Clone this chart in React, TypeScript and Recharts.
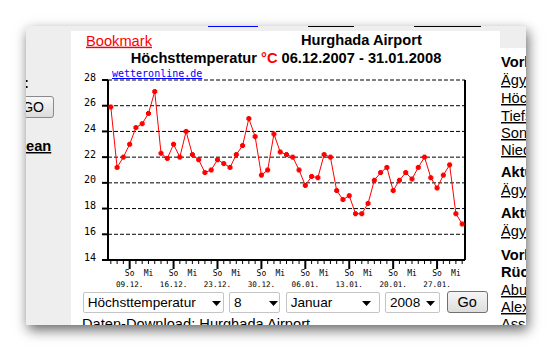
import React from 'react';
import { LineChart, Line, XAxis, YAxis, CartesianGrid } from 'recharts';

// Höchsttemperatur Hurghada, 06.12.2007 - 31.01.2008 (one value per day)
const temps = [
  25.9, 21.2, 22.0, 23.0, 24.3, 24.6, 25.4, 27.1, 22.3, 21.9,
  23.0, 22.0, 24.0, 22.2, 21.8, 20.8, 21.0, 21.8, 21.5, 21.2,
  22.2, 22.9, 25.0, 23.6, 20.6, 21.0, 23.8, 22.4, 22.2, 22.0,
  21.0, 19.8, 20.5, 20.4, 22.2, 22.0, 19.4, 18.7, 19.0, 17.6,
  17.6, 18.4, 20.2, 20.8, 21.2, 19.4, 20.2, 20.8, 20.3, 21.2,
  22.0, 20.4, 19.6, 20.6, 21.4, 17.6, 16.8,
];
const sundayLabels = ['09.12.', '16.12.', '23.12.', '30.12.', '06.01.', '13.01.', '20.01.', '27.01.'];
const weekdayLabels = ['So', 'Mi'];
const yTicks = [14, 16, 18, 20, 22, 24, 26, 28];
const station = 'Hurghada Airport';
const period = '06.12.2007 - 31.01.2008';

const FIRST_SUNDAY = 3; // 09.12.2007 is the 4th day
const data = temps.map((t, i) => ({ i, t }));
const dayTicks = data.map((d) => d.i);

const mono = '"DejaVu Sans Mono", monospace';
const sans = '"Liberation Sans", Arial, sans-serif';

const DayTick = ({ x, y, payload }: any) => {
  const off = payload.value - FIRST_SUNDAY;
  const sunday = off >= 0 && off % 7 === 0;
  const wed = off >= 0 && off % 7 === 3;
  return (
    <g>
      <line x1={x} x2={x} y1={y} y2={y + (sunday ? 9 : 4)} stroke="#000" strokeWidth={sunday ? 2 : 1} />
      {sunday && (
        <text x={x} y={y + 16} textAnchor="middle" fontSize={8} fontFamily={mono} fill="#000">
          {weekdayLabels[0]}
        </text>
      )}
      {wed && (
        <text x={x} y={y + 16} textAnchor="middle" fontSize={8} fontFamily={mono} fill="#000">
          {weekdayLabels[1]}
        </text>
      )}
      {sunday && (
        <text x={x} y={y + 27} textAnchor="middle" fontSize={7.6} fontFamily={mono} fill="#000">
          {sundayLabels[off / 7]}
        </text>
      )}
    </g>
  );
};

const LeftTick = ({ x, y, payload }: any) => (
  <g>
    <line x1={x - 6} x2={x} y1={y} y2={y} stroke="#000" strokeWidth={2} />
    <text x={x - 12} y={y + 0.5} textAnchor="end" fontSize={10} fontFamily={mono} fill="#000">
      {payload.value}
    </text>
  </g>
);

const RightTick = ({ x, y, payload }: any) => (
  <g>
    <line x1={x} x2={x + 7} y1={y} y2={y} stroke="#000" strokeWidth={2} />
    <text x={x + 9} y={y + 0.5} textAnchor="start" fontSize={10} fontFamily={mono} fill="#000">
      {payload.value}
    </text>
  </g>
);

const Cross = ({ cx, cy }: any) => {
  if (cx == null || cy == null) return null;
  return (
    <g fill="#ff0000">
      <rect x={cx - 2.5} y={cy - 1.5} width={5} height={3} />
      <rect x={cx - 1.5} y={cy - 2.5} width={3} height={5} />
    </g>
  );
};

// page helpers, coordinates are page pixels, frame starts at 26/26
const F = 26;

const Select = ({ x, w, label, arrow }: any) => (
  <div
    style={{
      position: 'absolute', left: x - F, top: 291.5 - F, width: w, height: 21,
      border: '1px solid #c4c4c4', borderRadius: 2, background: '#fff', boxSizing: 'border-box',
      fontFamily: sans, fontSize: 13.6, lineHeight: '19px', paddingLeft: 4, color: '#000', whiteSpace: 'nowrap',
    }}
  >
    {label}
    <svg style={{ position: 'absolute', left: arrow - x, top: 8 }} width={9} height={5}>
      <path d="M0 0H9L4.5 5Z" fill="#000" />
    </svg>
  </div>
);

const rightLinks = [
  { t: 'Vorhersage', b: 67, bold: true },
  { t: 'Ägypten', b: 85 },
  { t: 'Höchsttemp.', b: 103 },
  { t: 'Tiefsttemp.', b: 121 },
  { t: 'Sonne', b: 138 },
  { t: 'Niederschlag', b: 155 },
  { t: 'Aktuell', b: 177, bold: true },
  { t: 'Ägypten', b: 195 },
  { t: 'Aktuell', b: 218, bold: true },
  { t: 'Ägypten', b: 236 },
  { t: 'Vorhersage', b: 260, bold: true },
  { t: 'Rückblick', b: 277, bold: true },
  { t: 'Abu Simbel', b: 295 },
  { t: 'Alexandria', b: 312 },
  { t: 'Assuan', b: 329 },
];

export default function App() {
  return (
    <div style={{ position: 'fixed', left: 0, top: 0, width: 552, height: 352, background: '#fff', overflow: 'hidden' }}>
      <div
        style={{
          position: 'absolute', left: F, top: F, width: 500, height: 299, background: '#eeeeee',
          overflow: 'hidden', boxShadow: '2px 5px 12px rgba(0,0,0,0.6)',
        }}
      >
        <div style={{ position: 'absolute', left: 71 - F, top: 31 - F, width: 429, height: 300, background: '#fff' }} />
        <div style={{ position: 'absolute', left: 500 - F, top: 48 - F, width: 30, height: 300, background: '#fff' }} />
        <div style={{ position: 'absolute', left: 208 - F, top: 0, width: 50, height: 1, background: '#0000ff' }} />
        <div style={{ position: 'absolute', left: 308 - F, top: 0, width: 46, height: 1, background: '#000' }} />
        <div style={{ position: 'absolute', left: 414 - F, top: 0, width: 67, height: 1, background: '#000' }} />

        {/* GO button in left column */}
        <div
          style={{
            position: 'absolute', left: 14 - F, top: 96 - F, width: 40, height: 22, boxSizing: 'border-box',
            border: '1px solid #8a8a8a', borderRadius: 3, background: 'linear-gradient(#f7f7f7, #dcdcdc)',
            fontFamily: sans, fontSize: 14, lineHeight: '20px', textAlign: 'right', paddingRight: 9, color: '#000',
          }}
        >
          GO
        </div>

        <Select x={82.7} w={141.5} label="Höchsttemperatur" arrow={211.5} />
        <Select x={229} w={51} label="8" arrow={268} />
        <Select x={285.7} w={94.5} label="Januar" arrow={361.5} />
        <Select x={385} w={55} label="2008" arrow={425} />
        <div
          style={{
            position: 'absolute', left: 446.7 - F, top: 291 - F, width: 41, height: 22, boxSizing: 'border-box',
            border: '1px solid #707070', borderRadius: 3, background: 'linear-gradient(#f6f6f6, #dddddd)',
            fontFamily: sans, fontSize: 14.5, lineHeight: '20px', textAlign: 'center', color: '#000',
          }}
        >
          Go
        </div>

        <svg width={500} height={299} style={{ position: 'absolute', left: 0, top: 0 }}>
          <g transform={`translate(${-F},${-F})`} fontFamily={sans} fontSize={14.67}>
            <text x={86} y={45.7} fill="#ff0000" style={{ textDecoration: 'underline' }}>Bookmark</text>
            <text x={361.4} y={45} textAnchor="middle" fontWeight="bold" fill="#000">{station}</text>
            <text x={286} y={62.7} textAnchor="middle" fontWeight="bold" fill="#000">
              <tspan>Höchsttemperatur </tspan>
              <tspan fill="#ff0000">°C</tspan>
              <tspan> {period}</tspan>
            </text>
            <text x={112} y={77} fill="#0000ff" fontFamily={mono} fontSize={10} style={{ textDecoration: 'underline' }}>
              wetteronline.de
            </text>
            <text x={82} y={328.8} fill="#000">Daten-Download: {station}</text>
            <text x={24} y={88} fontWeight="bold" fill="#000">:</text>
            <text x={26} y={151} fontWeight="bold" fill="#000" style={{ textDecoration: 'underline' }}>ean</text>
            {rightLinks.map((l, k) => (
              <text
                key={k}
                x={501}
                y={l.b}
                fill="#000"
                fontWeight={l.bold ? 'bold' : 'normal'}
                style={{ textDecoration: l.bold ? 'none' : 'underline' }}
              >
                {l.t}
              </text>
            ))}
          </g>
        </svg>
      </div>

      <div style={{ position: 'absolute', left: 0, top: 0 }}>
        <LineChart width={552} height={352} data={data} margin={{ top: 80, right: 57, bottom: 52, left: 78 }}>
          <CartesianGrid vertical={false} stroke="#000" strokeDasharray="4 2" />
          <XAxis
            dataKey="i"
            type="number"
            domain={[-0.45, 56.45]}
            ticks={dayTicks}
            interval={0}
            height={40}
            tickSize={0}
            tickMargin={0}
            axisLine={{ stroke: '#000', strokeWidth: 2 }}
            tick={<DayTick />}
          />
          <YAxis
            domain={[14, 28]}
            ticks={yTicks}
            width={30}
            tickSize={0}
            tickMargin={0}
            axisLine={{ stroke: '#000', strokeWidth: 2 }}
            tick={<LeftTick />}
          />
          <YAxis
            yAxisId="r"
            orientation="right"
            domain={[14, 28]}
            ticks={yTicks}
            width={30}
            tickSize={0}
            tickMargin={0}
            axisLine={{ stroke: '#000', strokeWidth: 2 }}
            tick={<RightTick />}
          />
          <Line
            type="linear"
            dataKey="t"
            stroke="#ff0000"
            strokeWidth={1}
            dot={<Cross />}
            activeDot={false}
            isAnimationActive={false}
          />
        </LineChart>
      </div>
    </div>
  );
}
